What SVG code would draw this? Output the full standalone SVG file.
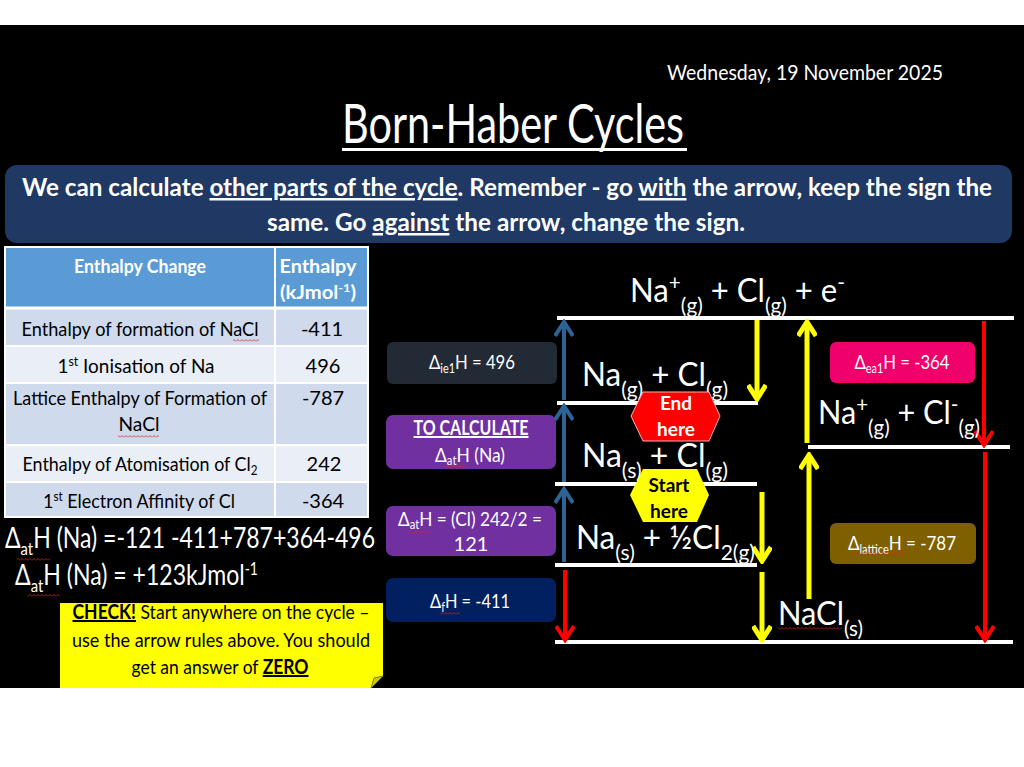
<svg xmlns="http://www.w3.org/2000/svg" width="1024" height="767" viewBox="0 0 1024 767">
<style>
.f{font-family:Lato,"Open Sans","Noto Sans",sans-serif}
.w{fill:#fff}
.k{fill:#000}
.b{font-weight:700}
.m{text-anchor:middle}
.u{text-decoration:underline}
.lvl{stroke:#fff;stroke-width:4}
.ab{stroke:#2C6496;stroke-width:4;marker-end:url(#hb)}
.ay{stroke:#FFFF00;stroke-width:5;marker-end:url(#hy)}
.ar{stroke:#FF0000;stroke-width:4;marker-end:url(#hr)}
.sq{fill:url(#sq)}
.cell{stroke:#fff;stroke-width:2}
</style>
<defs>
<marker id="hb" viewBox="0 0 20 20" refX="17" refY="10" markerWidth="20" markerHeight="20" markerUnits="userSpaceOnUse" orient="auto"><path d="M3,1 L17,10 L3,19" fill="none" stroke="#2C6496" stroke-width="4"/></marker>
<marker id="hy" viewBox="0 0 20 20" refX="17" refY="10" markerWidth="20" markerHeight="20" markerUnits="userSpaceOnUse" orient="auto"><path d="M3,1 L17,10 L3,19" fill="none" stroke="#FFFF00" stroke-width="5"/></marker>
<marker id="hr" viewBox="0 0 20 20" refX="17" refY="10" markerWidth="20" markerHeight="20" markerUnits="userSpaceOnUse" orient="auto"><path d="M3,1 L17,10 L3,19" fill="none" stroke="#FF0000" stroke-width="4"/></marker>
<pattern id="sq" width="4" height="3" patternUnits="userSpaceOnUse"><path d="M0,2.5 L2,0.5 L4,2.5" fill="none" stroke="#E02020" stroke-width="0.8"/></pattern>
</defs>

<rect x="0" y="0" width="1024" height="767" fill="#fff"/>
<rect x="0" y="25" width="1024" height="663" fill="#000"/>

<g id="header" class="f w">
<text x="667" y="80" font-size="21" textLength="276" lengthAdjust="spacingAndGlyphs">Wednesday, 19 November 2025</text>
<text x="342" y="143" font-size="54" textLength="342" lengthAdjust="spacingAndGlyphs">Born-Haber Cycles</text>
<rect x="342" y="148" width="345" height="3" fill="#fff"/>
</g>

<g id="banner">
<rect x="5" y="165" width="1007" height="78" rx="12" fill="#1F3864"/>
<text class="f w b m" x="507" y="196" font-size="25" textLength="970" lengthAdjust="spacingAndGlyphs">We can calculate <tspan class="u">other parts of the cycle</tspan>. Remember - go <tspan class="u">with</tspan> the arrow, keep the sign the</text>
<text class="f w b m" x="506" y="231" font-size="25" textLength="478" lengthAdjust="spacingAndGlyphs">same. Go <tspan class="u">against</tspan> the arrow, change the sign.</text>
</g>

<g id="table">
<rect x="5" y="247" width="363" height="61" fill="#5B9BD5"/>
<rect x="5" y="308" width="363" height="38" fill="#CFDAED"/>
<rect x="5" y="346" width="363" height="37" fill="#E9EEF7"/>
<rect x="5" y="383" width="363" height="62" fill="#CFDAED"/>
<rect x="5" y="445" width="363" height="37" fill="#E9EEF7"/>
<rect x="5" y="482" width="363" height="35" fill="#CFDAED"/>
<rect x="5" y="247" width="363" height="270" fill="none" class="cell"/>
<line x1="275" y1="247" x2="275" y2="517" class="cell"/>
<line x1="5" y1="308" x2="368" y2="308" stroke="#fff" stroke-width="3"/>
<line x1="5" y1="346" x2="368" y2="346" class="cell"/>
<line x1="5" y1="383" x2="368" y2="383" class="cell"/>
<line x1="5" y1="445" x2="368" y2="445" class="cell"/>
<line x1="5" y1="482" x2="368" y2="482" class="cell"/>
<g class="f w b m" font-size="19">
<text x="140" y="273" textLength="132" lengthAdjust="spacingAndGlyphs">Enthalpy Change</text>
<text x="318" y="273" textLength="77" lengthAdjust="spacingAndGlyphs">Enthalpy</text>
<text x="318" y="299" textLength="76" lengthAdjust="spacingAndGlyphs">(kJmol<tspan font-size="12" dy="-7">-1</tspan><tspan dy="7">)</tspan></text>
</g>
<g class="f k m" font-size="20">
<text x="140" y="336" textLength="237" lengthAdjust="spacingAndGlyphs">Enthalpy of formation of NaCl</text>
<text x="322" y="336">-411</text>
<text x="136" y="373" textLength="157" lengthAdjust="spacingAndGlyphs">1<tspan font-size="13" dy="-7">st</tspan><tspan dy="7"> Ionisation of Na</tspan></text>
<text x="323" y="373">496</text>
<text x="140" y="405" textLength="254" lengthAdjust="spacingAndGlyphs">Lattice Enthalpy of Formation of</text>
<text x="139" y="431" textLength="41" lengthAdjust="spacingAndGlyphs">NaCl</text>
<text x="323" y="405">-787</text>
<text x="140" y="471" textLength="235" lengthAdjust="spacingAndGlyphs">Enthalpy of Atomisation of Cl<tspan font-size="13" dy="4">2</tspan></text>
<text x="324" y="471">242</text>
<text x="139" y="508" textLength="192" lengthAdjust="spacingAndGlyphs">1<tspan font-size="13" dy="-7">st</tspan><tspan dy="7"> Electron Affinity of Cl</tspan></text>
<text x="323" y="508">-364</text>
</g>
<rect x="233" y="339" width="26" height="3" class="sq"/>
<rect x="118" y="435" width="41" height="3" class="sq"/>
</g>

<g id="calculation" class="f w">
<text x="5" y="548" font-size="28" textLength="370" lengthAdjust="spacingAndGlyphs">Δ<tspan font-size="18" dy="7">at</tspan><tspan dy="-7">H (Na) =-121 -411+787+364-496</tspan></text>
<text x="15" y="585" font-size="28" textLength="243" lengthAdjust="spacingAndGlyphs">Δ<tspan font-size="18" dy="7">at</tspan><tspan dy="-7">H (Na) = +123kJmol</tspan><tspan font-size="17" dy="-10">-1</tspan></text>
<rect x="17" y="558" width="33" height="3" class="sq"/>
<rect x="27" y="594" width="33" height="3" class="sq"/>
</g>

<g id="check-note">
<path d="M60,603 H383 V676 L371,688 H60 Z" fill="#FFFF00"/>
<path d="M371,688 L374,678 L383,676 Z" fill="#CCCC00" stroke="#7F7F00" stroke-width="1"/>
<g class="f k m" font-size="20">
<text x="221" y="619" textLength="297" lengthAdjust="spacingAndGlyphs"><tspan class="b u">CHECK!</tspan> Start anywhere on the cycle –</text>
<text x="221" y="647" textLength="298" lengthAdjust="spacingAndGlyphs">use the arrow rules above. You should</text>
<text x="220" y="674" textLength="177" lengthAdjust="spacingAndGlyphs">get an answer of <tspan class="b u">ZERO</tspan></text>
</g>
</g>

<g id="label-ie1">
<rect x="387" y="342" width="170" height="42" rx="6" fill="#222A35"/>
<text class="f w m" x="472" y="369" font-size="20" textLength="86" lengthAdjust="spacingAndGlyphs">Δ<tspan font-size="13" dy="4">ie1</tspan><tspan dy="-4">H = 496</tspan></text>
</g>

<g id="label-to-calculate">
<rect x="386" y="415" width="170" height="54" rx="7" fill="#7030A0"/>
<text class="f w b m u" x="471" y="435" font-size="20" textLength="115" lengthAdjust="spacingAndGlyphs">TO CALCULATE</text>
<text class="f w m" x="470" y="462" font-size="20" textLength="70" lengthAdjust="spacingAndGlyphs">Δ<tspan font-size="13" dy="3">at</tspan><tspan dy="-3">H (Na)</tspan></text>
<rect x="444" y="465" width="24" height="3" class="sq"/>
</g>

<g id="label-at-cl">
<rect x="386" y="506" width="170" height="50" rx="7" fill="#7030A0"/>
<text class="f w m" x="470" y="526" font-size="20" textLength="144" lengthAdjust="spacingAndGlyphs">Δ<tspan font-size="13" dy="3">at</tspan><tspan dy="-3">H = (Cl) 242/2 =</tspan></text>
<text class="f w m" x="471" y="551" font-size="20">121</text>
<rect x="408" y="531" width="22" height="3" class="sq"/>
</g>

<g id="label-f">
<rect x="386" y="578" width="170" height="44" rx="7" fill="#002060"/>
<text class="f w m" x="470" y="608" font-size="20" textLength="80" lengthAdjust="spacingAndGlyphs">Δ<tspan font-size="13" dy="4">f</tspan><tspan dy="-4">H = -411</tspan></text>
<rect x="440" y="612" width="20" height="3" class="sq"/>
</g>

<g id="label-ea1">
<rect x="830" y="342" width="145" height="41" rx="6" fill="#F0006A"/>
<text class="f w m" x="902" y="369" font-size="20" textLength="95" lengthAdjust="spacingAndGlyphs">Δ<tspan font-size="13" dy="4">ea1</tspan><tspan dy="-4">H = -364</tspan></text>
</g>

<g id="label-lattice">
<rect x="830" y="523" width="146" height="41" rx="6" fill="#7F6000"/>
<text class="f w m" x="902" y="550" font-size="20" textLength="108" lengthAdjust="spacingAndGlyphs">Δ<tspan font-size="13" dy="4">lattice</tspan><tspan dy="-4">H = -787</tspan></text>
<rect x="852" y="552" width="53" height="3" class="sq"/>
</g>

<g id="levels">
<line x1="557" y1="318" x2="1014" y2="318" class="lvl"/>
<line x1="557" y1="403" x2="758" y2="403" class="lvl"/>
<line x1="555" y1="484" x2="757" y2="484" class="lvl"/>
<line x1="555" y1="565" x2="757" y2="565" class="lvl"/>
<line x1="808" y1="447" x2="1010" y2="447" class="lvl"/>
<line x1="555" y1="642" x2="1013" y2="642" class="lvl"/>
</g>

<g id="connectors">
<line x1="564" y1="400" x2="564" y2="322" class="ab"/>
<line x1="564" y1="482" x2="564" y2="406" class="ab"/>
<line x1="564" y1="562" x2="564" y2="489" class="ab"/>
<line x1="565" y1="570" x2="565" y2="640" class="ar"/>
<line x1="757" y1="320" x2="757" y2="399" class="ay"/>
<line x1="762" y1="492" x2="762" y2="561" class="ay"/>
<line x1="762" y1="572" x2="762" y2="640" class="ay"/>
<line x1="807" y1="443" x2="807" y2="322" class="ay"/>
<line x1="809" y1="599" x2="809" y2="455" class="ay"/>
<line x1="984" y1="321" x2="984" y2="445" class="ar"/>
<line x1="985" y1="452" x2="985" y2="640" class="ar"/>
</g>

<g id="state-ions-gas" class="f w">
<text x="630" y="302" font-size="33" textLength="215" lengthAdjust="spacingAndGlyphs">Na<tspan font-size="22" dy="-12">+</tspan><tspan font-size="22" dy="23">(g)</tspan><tspan dy="-11"> + Cl</tspan><tspan font-size="22" dy="11">(g)</tspan><tspan dy="-11"> + e</tspan><tspan font-size="22" dy="-12">-</tspan></text>
</g>
<g id="state-atoms-gas" class="f w">
<text x="582" y="386" font-size="33" textLength="146" lengthAdjust="spacingAndGlyphs">Na<tspan font-size="22" dy="11">(g)</tspan><tspan dy="-11"> + Cl</tspan><tspan font-size="22" dy="11">(g)</tspan></text>
</g>
<g id="state-na-solid-cl-gas" class="f w">
<text x="582" y="467" font-size="33" textLength="146" lengthAdjust="spacingAndGlyphs">Na<tspan font-size="22" dy="11">(s)</tspan><tspan dy="-11"> + Cl</tspan><tspan font-size="22" dy="11">(g)</tspan></text>
</g>
<g id="state-elements" class="f w">
<text x="576" y="549" font-size="33" textLength="179" lengthAdjust="spacingAndGlyphs">Na<tspan font-size="22" dy="11">(s)</tspan><tspan dy="-11"> + ½Cl</tspan><tspan font-size="22" dy="11">2(g)</tspan></text>
</g>
<g id="state-ions" class="f w">
<text x="818" y="424" font-size="33" textLength="162" lengthAdjust="spacingAndGlyphs">Na<tspan font-size="22" dy="-12">+</tspan><tspan font-size="22" dy="23">(g)</tspan><tspan dy="-11"> + Cl</tspan><tspan font-size="22" dy="-12">-</tspan><tspan font-size="22" dy="23">(g)</tspan></text>
</g>
<g id="state-nacl" class="f w">
<text x="778" y="625" font-size="33" textLength="85" lengthAdjust="spacingAndGlyphs">NaCl<tspan font-size="22" dy="11">(s)</tspan></text>
<rect x="778" y="627" width="64" height="3" class="sq"/>
</g>

<g id="end-here">
<polygon points="631,416 643,392 709,392 720,416 709,441 643,441" fill="#FF0000" stroke="#FFB0B0" stroke-width="1"/>
<text class="f w b m" x="676" y="410" font-size="19">End</text>
<text class="f w b m" x="676" y="436" font-size="19">here</text>
</g>
<g id="start-here">
<polygon points="630,495 643,469 697,469 709,495 697,522 643,522" fill="#FFFF00"/>
<text class="f k b m" x="669" y="492" font-size="19">Start</text>
<text class="f k b m" x="669" y="518" font-size="19">here</text>
</g>
</svg>
